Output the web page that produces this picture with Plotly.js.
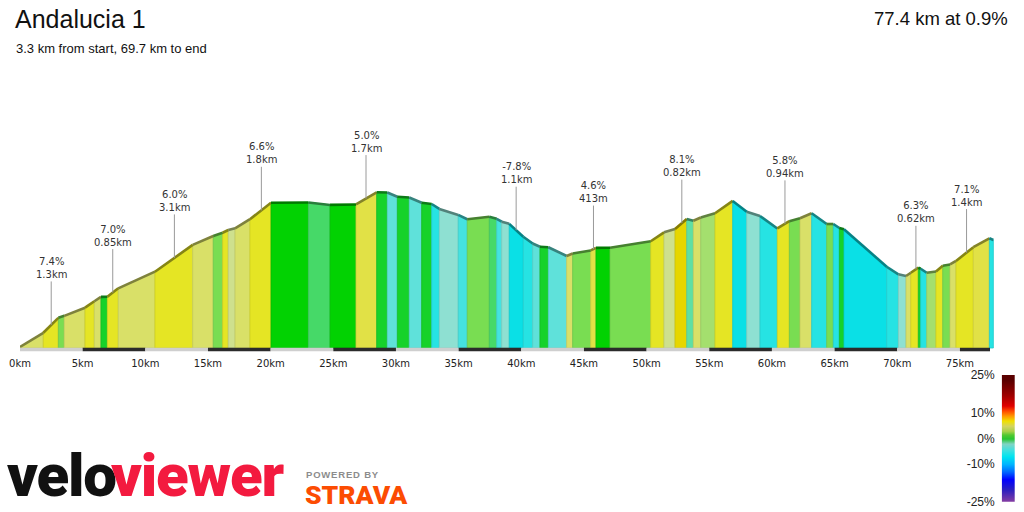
<!DOCTYPE html>
<html>
<head>
<meta charset="utf-8">
<script src="https://cdn.plot.ly/plotly-3.0.1.min.js"></script>
<style>
html,body{margin:0;padding:0;background:#fff;}
#chart{width:1024px;height:512px;}
text[data-unformatted="velo"],text[data-unformatted="viewer"]{letter-spacing:-1.2px;}
text[data-unformatted="POWERED BY"]{letter-spacing:0.8px;}
</style>
</head>
<body>
<div id="chart"></div>
<script>
// ---------- DATA ----------
const routeName = "Andalucia 1";
const totalKm = 77.4;
const avgGrade = 0.9;
const subTitle = "3.3 km from start, 69.7 km to end";

// profile vertices (distance km, elevation m)
const distKm = [0.00,1.86,3.06,3.53,5.19,5.93,6.46,6.97,7.84,10.77,13.78,15.42,16.17,16.62,17.16,18.35,
  20.03,23.01,24.74,26.81,28.46,29.31,30.11,31.06,32.05,32.85,33.46,34.97,35.69,37.45,38.04,38.44,39.04,
  40.16,40.91,41.49,42.16,43.62,44.10,45.54,45.96,47.08,50.33,51.39,52.27,53.20,53.73,54.32,55.46,56.87,
  57.99,59.05,60.43,61.39,62.24,63.17,64.37,64.90,65.38,65.75,69.16,70.09,70.70,71.08,71.68,71.87,72.35,
  73.09,73.63,74.21,74.69,76.07,77.35,77.67];
const elevM = [7,99,196,209,262,304,332,333,388,496,670,728,749,767,778,837,
  944,946,930,933,1012,1011,983,978,944,936,904,865,837,853,840,821,807,
  723,679,658,655,598,614,634,651,652,694,752,774,839,827,848,876,956,
  886,858,777,824,843,876,806,806,780,772,528,479,468,489,522,515,489,
  497,535,543,566,655,713,702];

// gradient class of each stretch between two vertices (colour)
const bandClass = ["P","Y","LG","P","Y","P","G","Y","P","Y","P","LG","Y","VP","P","Y",
  "BG","MG","BG","Y2","G","T","G","T","G","C","PT","CT","LG","MG","CT","PT","C0",
  "C","T","G","T","P","LG","Y2","BG","LG","Y","VP","GOLD","TG","P","LG2","Y","C0",
  "PT","C","Y","LG","P","C","LG","C","G","C0","C","PT","P","Y","G","C","LG2",
  "Y","LG","P","Y","Y2","C"];

// labelled climbs
const climbKm = [2.49,7.40,12.32,19.26,27.61,39.59,45.76,52.81,61.04,71.49,75.53];
const climbGrade = ["7.4%","7.0%","6.0%","6.6%","5.0%","-7.8%","4.6%","8.1%","5.8%","6.3%","7.1%"];
const climbLength = ["1.3km","0.85km","3.1km","1.8km","1.7km","1.1km","413m","0.82km","0.94km","0.62km","1.4km"];

// distance axis ticks
const kmTicks = [0,5,10,15,20,25,30,35,40,45,50,55,60,65,70,75];
// gradient legend ticks
const gradeTicks = [-25,-10,0,10,25];

// ---------- STYLE ----------
const classColour = {
  Y:"#e5e524", Y2:"#e1e146", GOLD:"#e6d600", P:"#d9e068", VP:"#cee08e",
  LG:"#79dd52", LG2:"#a4df6e", MG:"#46d968", G:"#16d22a", BG:"#02d202",
  TG:"#5fdfa5", PT:"#8ee0d2", T:"#5fe1da", CT:"#45e2e0", C:"#26e3e3", C0:"#0ae0e6"
};
const gradeScale = [
  [-25,"#8a3fa0"],[-20,"#2a1fc0"],[-16,"#0000ff"],[-13,"#0068ff"],[-10,"#00b4ff"],
  [-7,"#00e4f0"],[-4.5,"#40e0e0"],[-2,"#80d4c4"],[0,"#28c430"],[1.5,"#50c830"],
  [3,"#a8d048"],[5,"#d4d460"],[7,"#f0e000"],[9,"#ff9800"],[11,"#ff4800"],
  [13,"#e00000"],[17,"#a00000"],[23,"#5a0000"],[25,"#5a0000"]
];

function shade(hex, f){
  const n = parseInt(hex.slice(1),16);
  const r = Math.round(((n>>16)&255)*f), g = Math.round(((n>>8)&255)*f), b = Math.round((n&255)*f);
  return "rgb("+r+","+g+","+b+")";
}
function elevAt(km){
  for(let i=0;i<distKm.length-1;i++){
    if(km>=distKm[i] && km<=distKm[i+1]){
      const t=(km-distKm[i])/(distKm[i+1]-distKm[i]);
      return elevM[i]+t*(elevM[i+1]-elevM[i]);
    }
  }
  return elevM[elevM.length-1];
}

const traces = [];
// coloured bands
for(let i=0;i<distKm.length-1;i++){
  const col = classColour[bandClass[i]];
  traces.push({
    type:"scatter", mode:"lines", hoverinfo:"skip", showlegend:false,
    x:[distKm[i],distKm[i],distKm[i+1],distKm[i+1],distKm[i]],
    y:[0,elevM[i],elevM[i+1],0,0],
    fill:"toself", fillcolor:col,
    line:{color:shade(col,0.9), width:0.8}
  });
}
// darker top edge
for(let i=0;i<distKm.length-1;i++){
  const col = classColour[bandClass[i]];
  traces.push({
    type:"scatter", mode:"lines", hoverinfo:"skip", showlegend:false,
    x:[distKm[i],distKm[i+1]], y:[elevM[i],elevM[i+1]],
    line:{color:shade(col,0.58), width:2.6}
  });
}
// alternating km bar along the base
for(let k=0;k<kmTicks.length;k++){
  const a = kmTicks[k], b = Math.min(kmTicks[k]+5,totalKm);
  traces.push({
    type:"scatter", mode:"lines", hoverinfo:"skip", showlegend:false,
    x:[a,b], y:[-10,-10],
    line:{color: k%2===0 ? "#cfcfcf" : "#2b2b2b", width:3.5}
  });
}
// gradient legend
const lo = gradeScale[0][0], hi = gradeScale[gradeScale.length-1][0];
traces.push({
  type:"heatmap", xaxis:"x2", yaxis:"y2", hoverinfo:"skip", showscale:false,
  x:[0,1], y:[lo,hi], z:[[lo,lo],[hi,hi]], zmin:lo, zmax:hi, zsmooth:"best",
  colorscale: gradeScale.map(s=>[(s[0]-lo)/(hi-lo), s[1]])
});

const annotations = [];
for(let i=0;i<climbKm.length;i++){
  annotations.push({
    xref:"x", yref:"y", x:climbKm[i], y:elevAt(climbKm[i]),
    text: climbGrade[i]+"<br>"+climbLength[i],
    showarrow:true, arrowhead:0, arrowwidth:1, arrowcolor:"#9a9a9a",
    ax:0, ay:-57, standoff:0,
    font:{family:"DejaVu Sans, Verdana, sans-serif", size:10, color:"#333"}
  });
}
annotations.push(
  {xref:"paper", yref:"paper", x:13/1024, y:1-19/512, xanchor:"left", yanchor:"middle", showarrow:false,
   text:routeName, font:{family:"Liberation Sans, Arial, sans-serif", size:25, color:"#111"}},
  {xref:"paper", yref:"paper", x:14/1024, y:1-48/512, xanchor:"left", yanchor:"middle", showarrow:false,
   text:subTitle, font:{family:"Liberation Sans, Arial, sans-serif", size:13, color:"#111"}},
  {xref:"paper", yref:"paper", x:1010/1024, y:1-18/512, xanchor:"right", yanchor:"middle", showarrow:false,
   text:totalKm+" km at "+avgGrade+"%", font:{family:"Liberation Sans, Arial, sans-serif", size:18.5, color:"#111"}},
  {xref:"paper", yref:"paper", x:5/1024, y:1-475/512, xanchor:"left", yanchor:"middle", showarrow:false,
   text:"velo", font:{family:"Roboto, Arial, sans-serif", size:60, weight:900, color:"#111"}},
  {xref:"paper", yref:"paper", x:286/1024, y:1-475/512, xanchor:"right", yanchor:"middle", showarrow:false,
   text:"viewer", font:{family:"Roboto, Arial, sans-serif", size:60, weight:900, color:"#f31a3f"}},
  {xref:"paper", yref:"paper", x:304/1024, y:1-474/512, xanchor:"left", yanchor:"middle", showarrow:false,
   text:"POWERED BY", font:{family:"Liberation Sans, Arial, sans-serif", size:9.5, weight:700, color:"#8c8c8c"}},
  {xref:"paper", yref:"paper", x:303/1024, y:1-494/512, xanchor:"left", yanchor:"middle", showarrow:false,
   text:"STRAVA", font:{family:"Roboto, Arial, sans-serif", size:26.5, weight:900, color:"#fc4c02"}}
);

const layout = {
  width:1024, height:512,
  margin:{l:0,r:0,t:0,b:0},
  paper_bgcolor:"#fff", plot_bgcolor:"rgba(0,0,0,0)",
  showlegend:false, hovermode:false,
  xaxis:{domain:[20/1024,994/1024], range:[0,77.72], showgrid:false, zeroline:false, showline:false,
    tickvals:kmTicks, ticktext:kmTicks.map(k=>k+"km"), ticks:"", ticklabelstandoff:4,
    tickfont:{family:"DejaVu Sans, Verdana, sans-serif", size:10, color:"#222"}, fixedrange:true},
  yaxis:{domain:[(512-352)/512,(512-60)/512], range:[-26,1872], visible:false, fixedrange:true},
  xaxis2:{domain:[1001.7/1024,1015/1024], range:[0,1], visible:false, anchor:"y2", fixedrange:true},
  yaxis2:{domain:[(512-501.7)/512,(512-375)/512], range:[lo,hi], anchor:"x2", side:"left",
    showgrid:false, zeroline:false, showline:false, ticks:"", ticklabelstandoff:6,
    tickvals:gradeTicks, ticktext:gradeTicks.map(g=>g+"%"),
    tickfont:{family:"Liberation Sans, Arial, sans-serif", size:12, color:"#222"}, fixedrange:true},
  annotations: annotations
};

Plotly.newPlot("chart", traces, layout, {displayModeBar:false, staticPlot:true});
</script>
</body>
</html>
